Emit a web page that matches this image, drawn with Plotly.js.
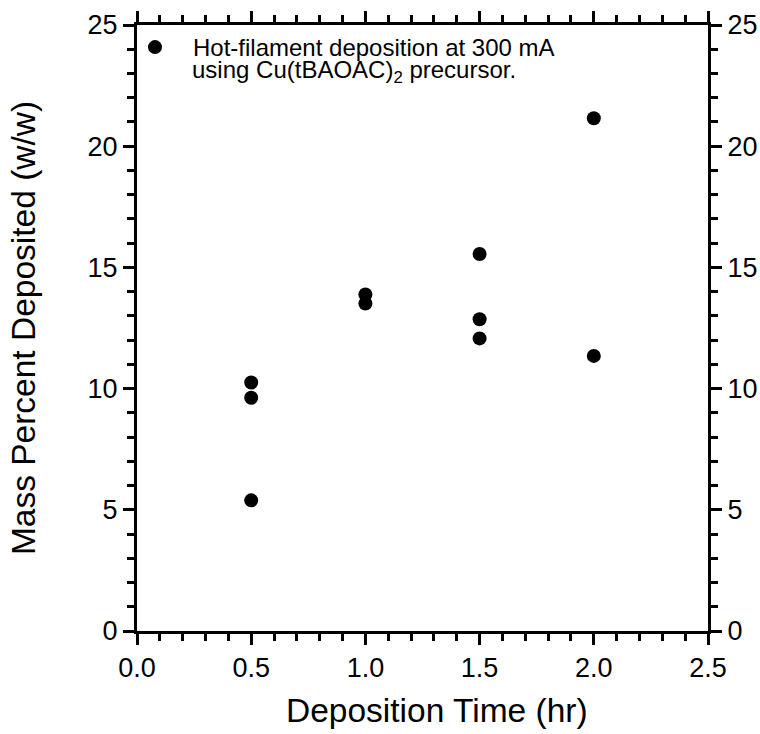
<!DOCTYPE html>
<html>
<head>
<meta charset="utf-8">
<script src="https://cdn.plot.ly/plotly-3.0.1.min.js"></script>
<style>html,body{margin:0;padding:0;background:#fff;}#chart{width:760px;height:734px;}</style>
</head>
<body>
<div id="chart"></div>
<script>
// Data
const depositionTime = [0.5, 0.5, 0.5, 1.0, 1.0, 1.5, 1.5, 1.5, 2.0, 2.0];
const massPercent    = [10.25, 9.62, 5.39, 13.88, 13.51, 15.55, 12.86, 12.07, 21.15, 11.35];
const seriesName = 'Hot-filament deposition at 300 mA';
const seriesNote = 'using Cu(tBAOAC)<sub>2</sub> precursor.';
const xTitle = 'Deposition Time (hr)';
const yTitle = 'Mass Percent Deposited (w/w)';
const xTickVals = [0, 0.5, 1.0, 1.5, 2.0, 2.5];
const xTickText = ['0.0', '0.5', '1.0', '1.5', '2.0', '2.5'];
const yTickVals = [0, 5, 10, 15, 20, 25];

const FONT = 'Liberation Sans, Arial, sans-serif';
const axisCommon = {
  showline: true, linewidth: 3, linecolor: '#000',
  ticks: 'outside', ticklen: 11, tickwidth: 3, tickcolor: '#000',
  showgrid: false, zeroline: false,
  tickfont: {family: FONT, size: 27, color: '#000'},
  minor: {ticks: 'outside', ticklen: 7, tickwidth: 3, tickcolor: '#000', showgrid: false}
};

const traces = [
  {
    x: depositionTime, y: massPercent, type: 'scatter', mode: 'markers',
    name: seriesName,
    marker: {color: '#000', size: 14, line: {width: 0}},
    cliponaxis: false
  },
  {
    x: [depositionTime[0]], y: [massPercent[0]], xaxis: 'x2', yaxis: 'y2',
    type: 'scatter', mode: 'markers', marker: {opacity: 0}, showlegend: false, hoverinfo: 'skip'
  }
];

const layout = {
  width: 760, height: 734,
  margin: {l: 137, r: 52, t: 25, b: 103},
  paper_bgcolor: '#fff', plot_bgcolor: '#fff',
  font: {family: FONT, color: '#000'},
  showlegend: true,
  legend: {
    x: -0.035, y: 1, xanchor: 'left', yanchor: 'top',
    itemwidth: 66,
    bgcolor: 'rgba(0,0,0,0)', borderwidth: 0,
    font: {family: FONT, size: 24, color: '#000'}
  },
  xaxis: Object.assign({}, axisCommon, {
    range: [0, 2.5], tickvals: xTickVals, ticktext: xTickText,
    minor: Object.assign({}, axisCommon.minor, {dtick: 0.1}),
    automargin: false
  }),
  yaxis: Object.assign({}, axisCommon, {
    range: [0, 25], tickvals: yTickVals,
    minor: Object.assign({}, axisCommon.minor, {dtick: 1}),
    title: {text: yTitle, font: {family: FONT, size: 33.5, color: '#000'}, standoff: 42},
    automargin: false
  }),
  xaxis2: Object.assign({}, axisCommon, {
    overlaying: 'x', side: 'top', range: [0, 2.5], tickvals: xTickVals,
    showticklabels: false,
    minor: Object.assign({}, axisCommon.minor, {dtick: 0.1}),
    automargin: false
  }),
  yaxis2: Object.assign({}, axisCommon, {
    overlaying: 'y', side: 'right', range: [0, 25], tickvals: yTickVals,
    minor: Object.assign({}, axisCommon.minor, {dtick: 1}),
    automargin: false
  }),
  annotations: [
    {text: seriesNote, xref: 'paper', yref: 'paper', x: 0.093, y: 0.924,
     xanchor: 'left', yanchor: 'middle', showarrow: false,
     font: {family: FONT, size: 24, color: '#000'}},
    {text: xTitle, xref: 'paper', yref: 'paper', x: 0.526, y: -0.132,
     xanchor: 'center', yanchor: 'middle', showarrow: false,
     font: {family: FONT, size: 33.5, color: '#000'}}
  ]
};

Plotly.newPlot('chart', traces, layout, {displayModeBar: false, staticPlot: true});
</script>
</body>
</html>
